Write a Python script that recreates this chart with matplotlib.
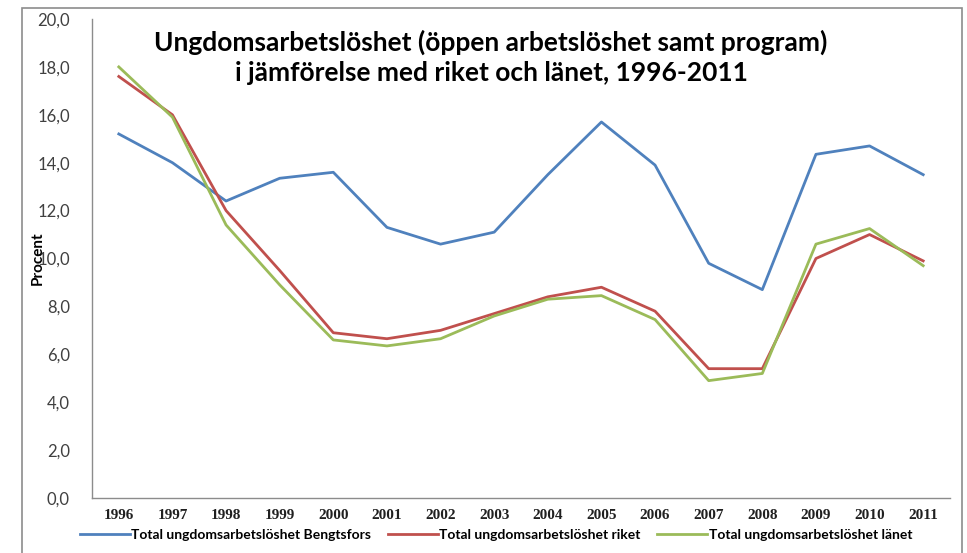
import matplotlib
matplotlib.use("Agg")
import matplotlib.pyplot as plt
from matplotlib.patches import Rectangle

years = [str(y) for y in range(1996, 2012)]
bengtsfors = [15.2, 14.0, 12.4, 13.35, 13.6, 11.3, 10.6, 11.1, 13.5, 15.7, 13.9, 9.8, 8.7, 14.35, 14.7, 13.5]
riket = [17.6, 16.0, 12.0, 9.5, 6.9, 6.65, 7.0, 7.7, 8.4, 8.8, 7.8, 5.4, 5.4, 10.0, 11.0, 9.9]
lanet = [18.0, 15.9, 11.4, 8.9, 6.6, 6.35, 6.65, 7.6, 8.3, 8.45, 7.45, 4.9, 5.2, 10.6, 11.25, 9.7]
labels = ["Total ungdomsarbetslöshet Bengtsfors",
          "Total ungdomsarbetslöshet riket",
          "Total ungdomsarbetslöshet länet"]
colors = ["#4F81BD", "#C0504D", "#9BBB59"]

plt.rcParams["font.family"] = ["Lato", "DejaVu Sans"]

W, H = 967, 553
fig = plt.figure(figsize=(W / 100, H / 100), dpi=100)
ax = fig.add_axes([92 / W, 1 - 498 / H, (950 - 92) / W, (498 - 19) / H])

# outer chart frame
fig.patches.append(Rectangle((22 / W, -0.05), (962 - 22) / W, 1.05 - 8 / H,
                             transform=fig.transFigure, fill=False,
                             edgecolor="#8c8c8c", lw=1.2))

x = range(len(years))
for vals, lab, col in zip([bengtsfors, riket, lanet], labels, colors):
    ax.plot(x, vals, color=col, lw=2.0, label=lab, solid_joinstyle="round")

ax.set_xlim(-0.5, len(years) - 0.5)
ax.set_ylim(0, 20)
ax.set_yticks(range(0, 21, 2))
ax.set_yticklabels([f"{v},0" for v in range(0, 21, 2)], fontsize=12, color="#404040")
ax.set_xticks(list(x))
ax.set_xticklabels(years, fontsize=11, fontweight="bold", color="#202020",
                   family=["Liberation Serif", "DejaVu Serif"])
ax.tick_params(axis="y", length=0, pad=16)
ax.tick_params(axis="x", length=0, pad=8)
for s in ["top", "right"]:
    ax.spines[s].set_visible(False)
for s in ["left", "bottom"]:
    ax.spines[s].set_color("#8c8c8c")
    ax.spines[s].set_linewidth(1.0)

fig.text(38 / W, 1 - 258 / H, "Procent", rotation=90, ha="center", va="center",
         fontsize=11, fontweight="bold")

fig.text(491 / W, 1 - 42 / H, "Ungdomsarbetslöshet (öppen arbetslöshet samt program)",
         ha="center", va="center", fontsize=19, fontweight="bold")
fig.text(491 / W, 1 - 73 / H, "i jämförelse med riket och länet, 1996-2011",
         ha="center", va="center", fontsize=19, fontweight="bold")

leg = fig.legend(loc="center left", bbox_to_anchor=(80 / W, 1 - 535 / H), ncol=3,
                 frameon=False, fontsize=10, handlelength=3.6, handletextpad=0.1,
                 columnspacing=1.2, borderaxespad=0, borderpad=0)
for t in leg.get_texts():
    t.set_fontweight("bold")

fig.savefig("out.png", dpi=100)
